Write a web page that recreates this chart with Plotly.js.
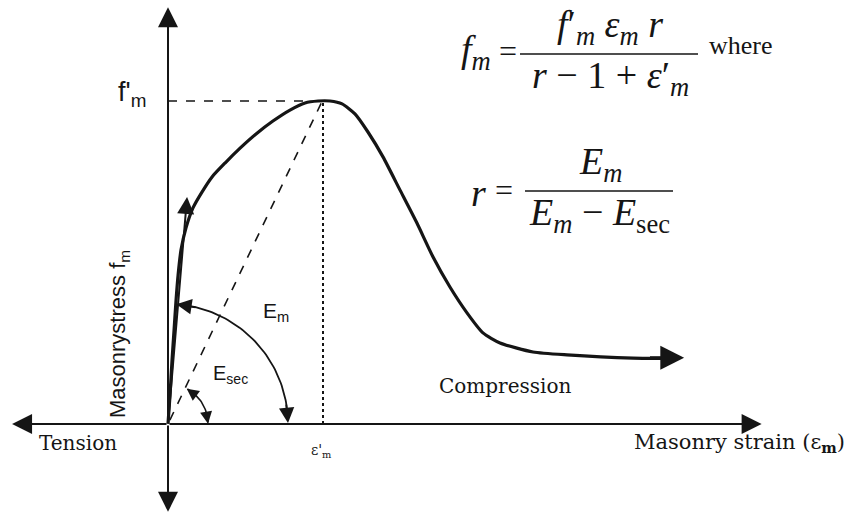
<!DOCTYPE html>
<html>
<head>
<meta charset="utf-8">
<script src="https://cdn.plot.ly/plotly-3.0.1.min.js"></script>
<style>
  html, body { margin: 0; padding: 0; background: #fff; }
  #chart { width: 852px; height: 517px; }
</style>
</head>
<body>
<div id="chart"></div>
<script>
// Masonry stress–strain curve: strain normalised by ε'm, stress normalised by f'm
const strain = [0, 0.013, 0.026, 0.039, 0.052, 0.065, 0.084, 0.116, 0.161, 0.219, 0.284, 0.368,
  0.465, 0.568, 0.677, 0.787, 0.884, 0.968, 1.045, 1.123, 1.206, 1.290, 1.387, 1.497, 1.606,
  1.710, 1.819, 1.929, 2.032, 2.142, 2.355, 2.574, 3.000, 3.252];
const stress = [0, 0.090, 0.198, 0.291, 0.384, 0.461, 0.539, 0.607, 0.669, 0.718, 0.765, 0.808,
  0.854, 0.898, 0.938, 0.972, 0.994, 1.000, 1.000, 0.991, 0.960, 0.904, 0.827, 0.724, 0.622,
  0.517, 0.424, 0.344, 0.282, 0.251, 0.223, 0.214, 0.204, 0.203];

// peak point (ε'm, f'm) and initial tangent (Em)
const peak = { strain: 1.0, stress: 1.0 };
const tangentTip = { strain: 0.123, stress: 0.703 };
const curveEnd = { strain: 3.33, stress: 0.205 };

// axis extents (arrow tips)
const axisLeft = -1.006, axisRight = 3.83, axisTop = 1.29, axisBottom = -0.272;

const W = 852, H = 517;
const xRange = [-1.084, 4.413];
const yRange = [-0.288, 1.3127];
const pxPerX = W / (xRange[1] - xRange[0]);
const pxPerY = H / (yRange[1] - yRange[0]);

// circular (on screen) arc about the origin, radius in pixels, angles in degrees
function arcPoints(rPx, a0, a1, n) {
  const xs = [], ys = [];
  for (let i = 0; i <= n; i++) {
    const a = (a0 + (a1 - a0) * i / n) * Math.PI / 180;
    xs.push(rPx * Math.cos(a) / pxPerX);
    ys.push(rPx * Math.sin(a) / pxPerY);
  }
  return { x: xs, y: ys };
}
function arcPt(rPx, a) {
  const r = a * Math.PI / 180;
  return [rPx * Math.cos(r) / pxPerX, rPx * Math.sin(r) / pxPerY];
}

const ink = '#151515';
const emArc = arcPoints(120, 85, 2, 60);
const secArc = arcPoints(40, 61, 2, 30);

const traces = [
  { x: strain, y: stress, mode: 'lines', line: { color: ink, width: 3.2, shape: 'spline', smoothing: 0.6 } },
  { x: [0, 0.9], y: [peak.stress, peak.stress], mode: 'lines', line: { color: ink, width: 1.6, dash: 'dash' } },
  { x: [peak.strain, peak.strain], y: [0, peak.stress], mode: 'lines', line: { color: ink, width: 2, dash: 'dot' } },
  { x: [0.012, peak.strain - 0.01], y: [0.012, peak.stress - 0.005], mode: 'lines', line: { color: ink, width: 1.6, dash: 'dash' } },
  { x: emArc.x, y: emArc.y, mode: 'lines', line: { color: ink, width: 1.8 } },
  { x: secArc.x, y: secArc.y, mode: 'lines', line: { color: ink, width: 1.6 } }
];

function arrow(tip, tail, w, size) {
  return {
    x: tip[0], y: tip[1], ax: tail[0], ay: tail[1],
    xref: 'x', yref: 'y', axref: 'x', ayref: 'y',
    text: '', showarrow: true, arrowhead: 2, arrowsize: size || 1.4,
    arrowwidth: w || 2, arrowcolor: ink, standoff: 0, startstandoff: 0
  };
}
function label(xp, yp, text, font, extra) {
  return Object.assign({
    xref: 'paper', yref: 'paper', x: xp / W, y: 1 - yp / H,
    text: text, showarrow: false, xanchor: 'center', yanchor: 'middle',
    font: Object.assign({ color: ink }, font)
  }, extra || {});
}

const sans = 'Liberation Sans';
const serif = 'DejaVu Serif';
const math = 'Liberation Serif';

const annotations = [
  // axes
  arrow([axisRight, 0], [0, 0], 2, 2),
  arrow([axisLeft, 0], [0, 0], 2, 2),
  arrow([0, axisTop], [0, 0], 2, 2),
  arrow([0, axisBottom], [0, 0], 2, 2),
  // initial tangent
  arrow([tangentTip.strain, tangentTip.stress], [0, 0], 2, 1.7),
  // curve end
  arrow([curveEnd.strain, curveEnd.stress], [3.1, 0.205], 2.8, 1.7),
  // arc arrowheads
  arrow(arcPt(120, 86), arcPt(120, 76), 1.8, 1.7),
  arrow(arcPt(120, 0.5), arcPt(120, 10), 1.8, 1.7),
  arrow(arcPt(40, 62), arcPt(40, 44), 1.6, 1.5),
  arrow(arcPt(40, 0.5), arcPt(40, 18), 1.6, 1.5),

  // labels
  label(148, 94, "f'<sub>m</sub>", { family: sans, size: 27 }, { xanchor: 'right' }),
  label(119, 334, 'Masonrystress f<sub>m</sub>', { family: sans, size: 22 }, { textangle: -90 }),
  label(276, 312, 'E<sub>m</sub>', { family: sans, size: 21 }),
  label(230, 374, 'E<sub>sec</sub>', { family: sans, size: 20 }),
  label(78, 443, 'Tension', { family: serif, size: 20 }),
  label(505, 386, 'Compression', { family: serif, size: 20 }),
  label(739, 443, 'Masonry strain (ε<sub><b>m</b></sub>)', { family: serif, size: 21 }),
  label(321, 451, "ε'<sub>m</sub>", { family: serif, size: 14 }),

  // f_m = f'm εm r / (r − 1 + ε'm)  where
  label(493, 52, '<i>f</i><sub><i>m</i></sub>', { family: math, size: 38 }, { xanchor: 'right' }),
  label(508, 51, '=', { family: math, size: 32 }),
  label(610, 53, '<i>f</i>′<sub><i>m</i></sub> <i>ε</i><sub><i>m</i></sub> <i>r</i>', { family: math, size: 38 }, { yanchor: 'bottom' }),
  label(610, 52, '<i>r</i> − 1 + <i>ε</i>′<sub><i>m</i></sub>', { family: math, size: 38 }, { yanchor: 'top' }),
  label(741, 46, 'where', { family: math, size: 26 }),

  // r = Em / (Em − Esec)
  label(478, 193, '<i>r</i>', { family: math, size: 38 }),
  label(504, 190, '=', { family: math, size: 32 }),
  label(600, 190, '<i>E</i><sub><i>m</i></sub>', { family: math, size: 38 }, { yanchor: 'bottom' }),
  label(599, 189, '<i>E</i><sub><i>m</i></sub> − <i>E</i><sub>sec</sub>', { family: math, size: 38 }, { yanchor: 'top' })
];

const shapes = [
  { type: 'line', xref: 'paper', yref: 'paper', x0: 520 / W, x1: 698 / W, y0: 1 - 54 / H, y1: 1 - 54 / H, line: { color: ink, width: 1.5 } },
  { type: 'line', xref: 'paper', yref: 'paper', x0: 525 / W, x1: 673 / W, y0: 1 - 191 / H, y1: 1 - 191 / H, line: { color: ink, width: 1.5 } }
];

const layout = {
  width: W, height: H,
  margin: { l: 0, r: 0, t: 0, b: 0, pad: 0 },
  paper_bgcolor: '#ffffff', plot_bgcolor: '#ffffff',
  showlegend: false,
  xaxis: { range: xRange, visible: false, fixedrange: true },
  yaxis: { range: yRange, visible: false, fixedrange: true },
  annotations: annotations,
  shapes: shapes
};

Plotly.newPlot('chart', traces.map(t => Object.assign({ hoverinfo: 'skip' }, t)), layout, { staticPlot: true, displayModeBar: false });
</script>
</body>
</html>
